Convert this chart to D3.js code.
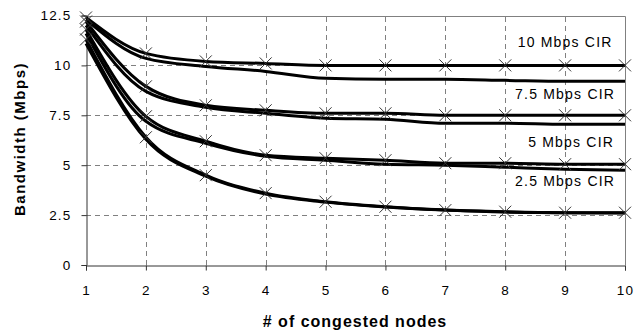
<!DOCTYPE html>
<html>
<head>
	<meta charset="utf-8">
	<title>Bandwidth vs congested nodes</title>
	<script src="https://d3js.org/d3.v7.min.js"></script>
	<style>
		body { margin: 0; background: #fff; }
		text { font-family: "Liberation Sans", Arial, sans-serif; fill: #000; }
	</style>
</head>
<body>
	<div id="chart"></div>
	<script>
		// Data
		var nodes = [1, 2, 3, 4, 5, 6, 7, 8, 9, 10];
		var yTicks = [0, 2.5, 5, 7.5, 10, 12.5];
		var groupLabels = ["10 Mbps CIR", "7.5 Mbps CIR", "5 Mbps CIR", "2.5 Mbps CIR"];
		var labelPos = [[9, 10.9], [9, 8.3], [9.1, 5.9], [9, 3.95]]; // [node, bandwidth] of label centre

		// lines with x markers
		var cir10 = [12.4, 10.6, 10.2, 10.1, 10.0, 10.0, 10.0, 10.0, 10.0, 10.0];
		var cir75 = [12.2, 8.95, 8.0, 7.75, 7.6, 7.6, 7.5, 7.5, 7.5, 7.5];
		var cir5 = [11.8, 7.45, 6.2, 5.5, 5.35, 5.25, 5.1, 5.1, 5.05, 5.05];
		var cir25 = [11.3, 6.4, 4.5, 3.6, 3.17, 2.92, 2.75, 2.67, 2.62, 2.62];
		// lines without markers
		var cir10b = [12.3, 10.35, 9.95, 9.7, 9.35, 9.3, 9.3, 9.25, 9.2, 9.2];
		var cir75b = [12.0, 8.7, 7.9, 7.6, 7.35, 7.3, 7.1, 7.1, 7.05, 7.05];
		var cir5b = [11.6, 7.2, 6.1, 5.45, 5.25, 5.05, 5.0, 4.9, 4.8, 4.75];
		var cir25b = [11.1, 6.3, 4.45, 3.55, 3.15, 2.9, 2.75, 2.65, 2.62, 2.6];

		var marked = [cir10, cir75, cir5, cir25];
		var plain = [cir10b, cir75b, cir5b, cir25b];

		var width = 637, height = 332;

		var x = d3.scaleLinear().domain([1, 10]).range([86, 625]);
		var y = d3.scaleLinear().domain([0, 12.5]).range([265, 15.5]);

		var svg = d3.select("#chart")
			.append("svg")
			.attr("width", width)
			.attr("height", height);

		// grid
		svg.append("g")
			.selectAll("line")
			.data(yTicks.slice(1, -1))
			.join("line")
			.attr("x1", x(1)).attr("x2", x(10))
			.attr("y1", d => Math.round(y(d)) + 0.5).attr("y2", d => Math.round(y(d)) + 0.5)
			.attr("stroke", "#808080")
			.attr("stroke-dasharray", "5,4");
		svg.append("g")
			.selectAll("line")
			.data(nodes.slice(1, -1))
			.join("line")
			.attr("x1", d => Math.round(x(d)) + 0.5).attr("x2", d => Math.round(x(d)) + 0.5)
			.attr("y1", y(0)).attr("y2", y(12.5))
			.attr("stroke", "#808080")
			.attr("stroke-dasharray", "5,4");

		// plot frame top / right
		svg.append("path")
			.attr("d", "M" + x(1) + "," + (Math.round(y(12.5)) + 0.5) + "H" + (Math.round(x(10)) + 0.5) + "V" + y(0))
			.attr("fill", "none")
			.attr("stroke", "#808080");

		// axes
		var yAxis = svg.append("g")
			.attr("transform", "translate(" + (Math.round(x(1)) + 0.5) + ",0)")
			.call(d3.axisLeft(y).tickValues(yTicks).tickSize(5).tickPadding(10).tickFormat(d3.format("")));
		var xAxis = svg.append("g")
			.attr("transform", "translate(0," + (Math.round(y(0)) + 0.5) + ")")
			.call(d3.axisBottom(x).tickValues(nodes).tickSize(5).tickPadding(15).tickFormat(d3.format("d")));
		[xAxis, yAxis].forEach(function (a) {
			a.select(".domain").attr("stroke", "#333");
			a.selectAll(".tick line").attr("stroke", "#333");
			a.selectAll(".tick text")
				.attr("font-family", "Liberation Sans, Arial, sans-serif")
				.attr("font-size", 13.5)
				.attr("letter-spacing", 1.2)
				.attr("fill", "#111");
		});

		// lines
		var line = d3.line()
			.x((d, i) => x(nodes[i]))
			.y(d => y(d))
			.curve(d3.curveMonotoneX);

		svg.append("g")
			.selectAll("path")
			.data(plain)
			.join("path")
			.attr("d", line)
			.attr("fill", "none")
			.attr("stroke", "#000")
			.attr("stroke-width", 3);

		svg.append("g")
			.selectAll("path")
			.data(marked)
			.join("path")
			.attr("d", line)
			.attr("fill", "none")
			.attr("stroke", "#000")
			.attr("stroke-width", 3);

		// x markers
		var s = 6;
		marked.forEach(function (series) {
			svg.append("g")
				.selectAll("path")
				.data(series)
				.join("path")
				.attr("d", (d, i) => {
					var cx = x(nodes[i]), cy = y(d);
					return "M" + (cx - s) + "," + (cy - s) + "L" + (cx + s) + "," + (cy + s) +
						"M" + (cx - s) + "," + (cy + s) + "L" + (cx + s) + "," + (cy - s);
				})
				.attr("stroke", "#333")
				.attr("stroke-width", 1);
		});

		// group labels
		svg.append("g")
			.selectAll("text")
			.data(groupLabels)
			.join("text")
			.attr("x", (d, i) => x(labelPos[i][0]))
			.attr("y", (d, i) => y(labelPos[i][1]))
			.attr("text-anchor", "middle")
			.attr("font-size", 14)
			.attr("letter-spacing", 1.2)
			.text(d => d);

		// axis titles
		svg.append("text")
			.attr("x", 355)
			.attr("y", 327)
			.attr("text-anchor", "middle")
			.attr("font-size", 16)
			.attr("font-weight", "bold")
			.attr("letter-spacing", 1)
			.text("# of congested nodes");

		svg.append("text")
			.attr("transform", "translate(25,139) rotate(-90)")
			.attr("text-anchor", "middle")
			.attr("font-size", 15)
			.attr("font-weight", "bold")
			.attr("letter-spacing", 1.5)
			.text("Bandwidth (Mbps)");
	</script>
</body>
</html>
